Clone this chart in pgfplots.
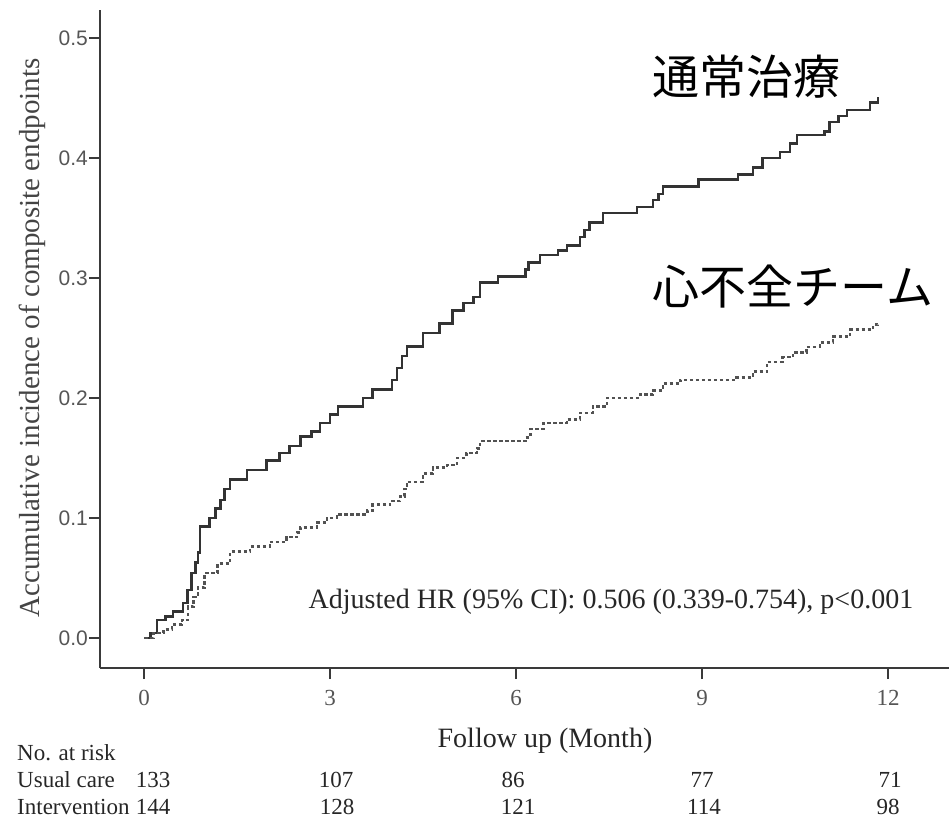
\documentclass[border=0pt]{standalone}
\usepackage{pgfplots}
\pgfplotsset{compat=1.18}
\usepackage{fontspec}
\setmainfont{Liberation Serif}
\newfontfamily\cjk{Noto Sans CJK JP}
\newfontfamily\arial{Liberation Sans}
\definecolor{axgray}{HTML}{3A3A3A}
\definecolor{lblgray}{HTML}{555555}
\definecolor{curvegray}{HTML}{333333}

\pgfplotstableread{
x y
0.00 0.000
0.10 0.004
0.21 0.015
0.35 0.018
0.47 0.022
0.63 0.029
0.70 0.040
0.77 0.054
0.83 0.063
0.87 0.071
0.90 0.093
1.06 0.100
1.15 0.108
1.23 0.115
1.30 0.124
1.39 0.132
1.66 0.140
1.98 0.148
2.19 0.154
2.35 0.160
2.52 0.168
2.70 0.172
2.84 0.179
3.00 0.186
3.13 0.193
3.53 0.200
3.69 0.207
4.00 0.215
4.08 0.225
4.16 0.235
4.24 0.243
4.50 0.254
4.77 0.262
4.98 0.273
5.15 0.279
5.31 0.284
5.42 0.296
5.71 0.301
6.15 0.307
6.20 0.313
6.39 0.319
6.68 0.323
6.82 0.327
7.03 0.334
7.10 0.340
7.19 0.346
7.40 0.354
7.95 0.359
8.21 0.365
8.30 0.370
8.37 0.376
8.94 0.382
9.58 0.386
9.82 0.392
9.98 0.400
10.26 0.405
10.42 0.412
10.53 0.419
10.98 0.422
11.06 0.430
11.20 0.435
11.34 0.440
11.71 0.446
11.84 0.451
}\usual

\pgfplotstableread{
x y
0.00 0.000
0.15 0.004
0.31 0.007
0.45 0.011
0.61 0.015
0.71 0.026
0.80 0.034
0.87 0.042
0.98 0.054
1.19 0.062
1.39 0.072
1.71 0.076
2.03 0.080
2.30 0.084
2.47 0.088
2.52 0.092
2.79 0.096
2.95 0.100
3.11 0.103
3.60 0.106
3.69 0.111
3.97 0.114
4.13 0.118
4.20 0.124
4.24 0.130
4.50 0.137
4.66 0.142
4.89 0.144
5.05 0.150
5.20 0.154
5.37 0.158
5.42 0.164
6.15 0.167
6.23 0.174
6.44 0.179
6.82 0.182
7.03 0.1875
7.24 0.193
7.47 0.200
8.00 0.203
8.21 0.206
8.37 0.212
8.65 0.215
9.56 0.217
9.82 0.222
10.05 0.230
10.30 0.234
10.47 0.238
10.69 0.2425
10.90 0.246
11.11 0.251
11.39 0.257
11.76 0.261
11.84 0.263
}\interv

\begin{document}
\begin{tikzpicture}[x=1pt,y=1pt]
\path[use as bounding box] (0,0) rectangle (949,819);
\begin{axis}[
  at={(100pt,151pt)}, anchor=south west,
  scale only axis, width=849pt, height=658pt,
  xmin=-0.7097, xmax=12.984, ymin=-0.025, ymax=0.5233,
  axis x line*=bottom, axis y line*=left,
  axis line style={axgray, line width=2.6pt, -},
  xtick={0,3,6,9,12}, ytick={0,0.1,0.2,0.3,0.4,0.5},
  tick align=outside, major tick length=11pt,
  tick style={axgray, line width=1.8pt},
  yticklabel style={/pgf/number format/fixed, /pgf/number format/fixed zerofill, /pgf/number format/precision=1, font=\arial\fontsize{21}{24}\selectfont, text=lblgray, inner sep=1pt},
  xticklabel style={font=\fontsize{23}{26}\selectfont, text=lblgray, yshift=-8pt},
  /pgf/number format/assume math mode=true,
  clip=false,
]
\addplot[const plot, curvegray, line width=2.6pt] table[x=x,y=y] {\usual};
\addplot[const plot, curvegray!85, line width=2.6pt, dash pattern=on 3.5pt off 2.5pt] table[x=x,y=y] {\interv};
\end{axis}
% labels
\node[rotate=90, font=\fontsize{29}{34}\selectfont, text=lblgray!80!black] at (32,481) {Accumulative incidence of composite endpoints};
\node[font=\fontsize{28}{32}\selectfont, text=black!85] at (545,78) {Follow up (Month)};
\node[font=\fontsize{28}{32}\selectfont, text=black!85] at (611,217) {Adjusted HR (95\% CI): 0.506 (0.339-0.754), p<0.001};
\node[font=\cjk\fontsize{47}{52}\selectfont] at (746,742) {通常治療};
\node[font=\cjk\fontsize{47}{52}\selectfont] at (793,532) {心不全チーム};
% risk table
\begin{scope}[font=\fontsize{23}{26}\selectfont, text=black!85]
\node[anchor=west, inner sep=0] at (17,66) {No. at risk};
\node[anchor=west, inner sep=0] at (17,39) {Usual care};
\node[anchor=west, inner sep=0] at (17,12) {Intervention};
\node at (153,39) {133};
\node at (336,39) {107};
\node at (513,39) {86};
\node at (702,39) {77};
\node at (890,39) {71};
\node at (153,12) {144};
\node at (337,12) {128};
\node at (518,12) {121};
\node at (704,12) {114};
\node at (888,12) {98};
\end{scope}
\end{tikzpicture}
\end{document}
